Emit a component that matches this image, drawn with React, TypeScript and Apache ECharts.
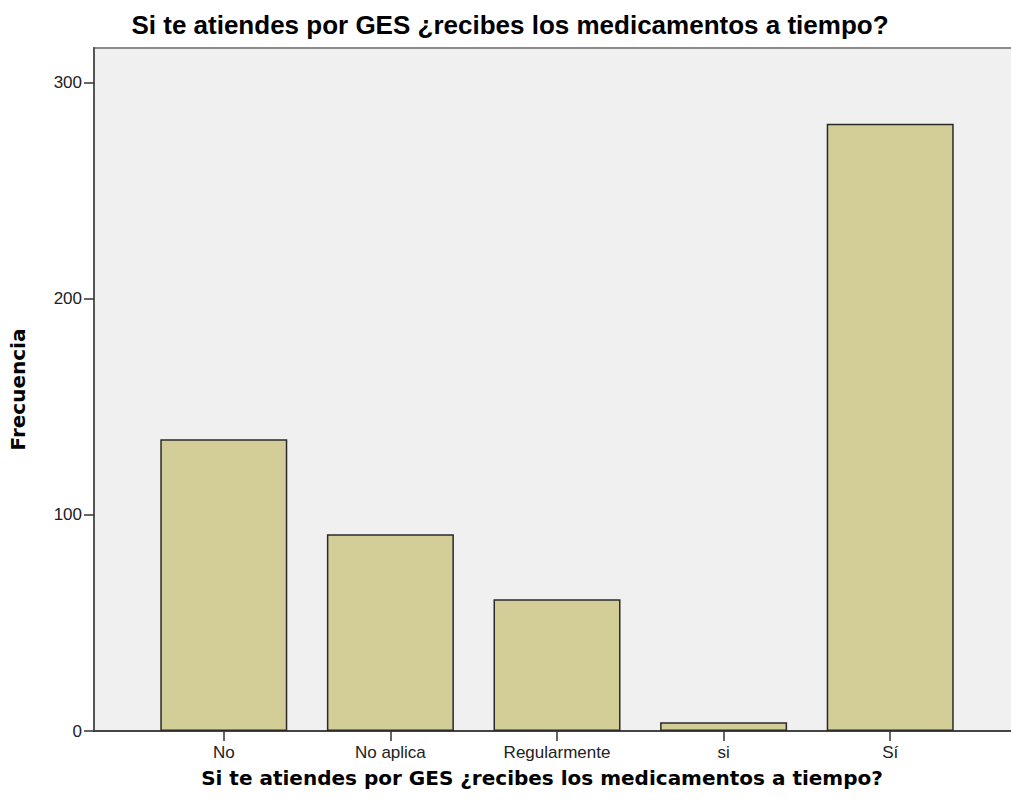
import React, { useEffect, useRef } from "react";
import * as echarts from "echarts";

const titleText = "Si te atiendes por GES ¿recibes los medicamentos a tiempo?";
const xAxisName = "Si te atiendes por GES ¿recibes los medicamentos a tiempo?";
const yAxisName = "Frecuencia";
const categories = ["No", "No aplica", "Regularmente", "si", "Sí"];
const frequencies = [135, 91, 61, 4, 281];
const yTicks = [0, 100, 200, 300];
const yMax = 316;

export default function App() {
  const ref = useRef<HTMLDivElement>(null);
  useEffect(() => {
    if (!ref.current) return;
    const chart = echarts.init(ref.current, null, { renderer: "svg" });
    const catIdx = categories.map((_, i) => i);
    chart.setOption({
      animation: false,
      backgroundColor: "#ffffff",
      title: {
        text: titleText,
        left: "center",
        top: 7,
        textStyle: {
          fontFamily: "Liberation Sans",
          fontWeight: "bold",
          fontSize: 26,
          color: "#000",
        },
      },
      grid: {
        left: 93,
        top: 48,
        width: 931,
        height: 683,
        show: true,
        backgroundColor: "#f0f0f0",
        borderColor: "#8a8a8a",
        borderWidth: 2,
      },
      xAxis: {
        type: "value",
        min: -0.779,
        max: 4.779,
        name: xAxisName,
        nameLocation: "middle",
        nameGap: 37,
        nameTextStyle: {
          fontFamily: "DejaVu Sans",
          fontWeight: "bold",
          fontSize: 20,
          color: "#000",
          padding: [0, 30, 0, 0],
        },
        axisLine: { show: true, onZero: false, lineStyle: { color: "#444", width: 2 } },
        axisTick: { show: true, customValues: catIdx, length: 10, lineStyle: { color: "#333", width: 1.5 } },
        axisLabel: {
          customValues: catIdx,
          formatter: (v: number) => categories[Math.round(v)] ?? "",
          margin: 13,
          fontFamily: "Liberation Sans",
          fontSize: 17,
          color: "#222",
        },
        splitLine: { show: false },
      },
      yAxis: {
        type: "value",
        min: 0,
        max: yMax,
        name: yAxisName,
        nameLocation: "middle",
        nameGap: 66,
        nameTextStyle: {
          fontFamily: "DejaVu Sans",
          fontWeight: "bold",
          fontSize: 20,
          color: "#000",
        },
        axisLine: { show: true, onZero: false, lineStyle: { color: "#555", width: 2 } },
        axisTick: { show: true, customValues: yTicks, length: 10, lineStyle: { color: "#333", width: 1.5 } },
        axisLabel: {
          customValues: yTicks,
          margin: 12,
          fontFamily: "Liberation Sans",
          fontSize: 17,
          color: "#222",
        },
        splitLine: { show: false },
      },
      series: [
        {
          type: "bar",
          data: frequencies.map((v, i) => [i, v]),
          barWidth: 127,
          itemStyle: { color: "#d3ce98", borderColor: "#2a2a2a", borderWidth: 1.5 },
        },
      ],
    });
    return () => chart.dispose();
  }, []);
  return (
    <div style={{ position: "fixed", left: 0, top: 0, width: 1011, height: 805, overflow: "hidden" }}>
      <div ref={ref} style={{ width: 1020, height: 805 }} />
    </div>
  );
}
